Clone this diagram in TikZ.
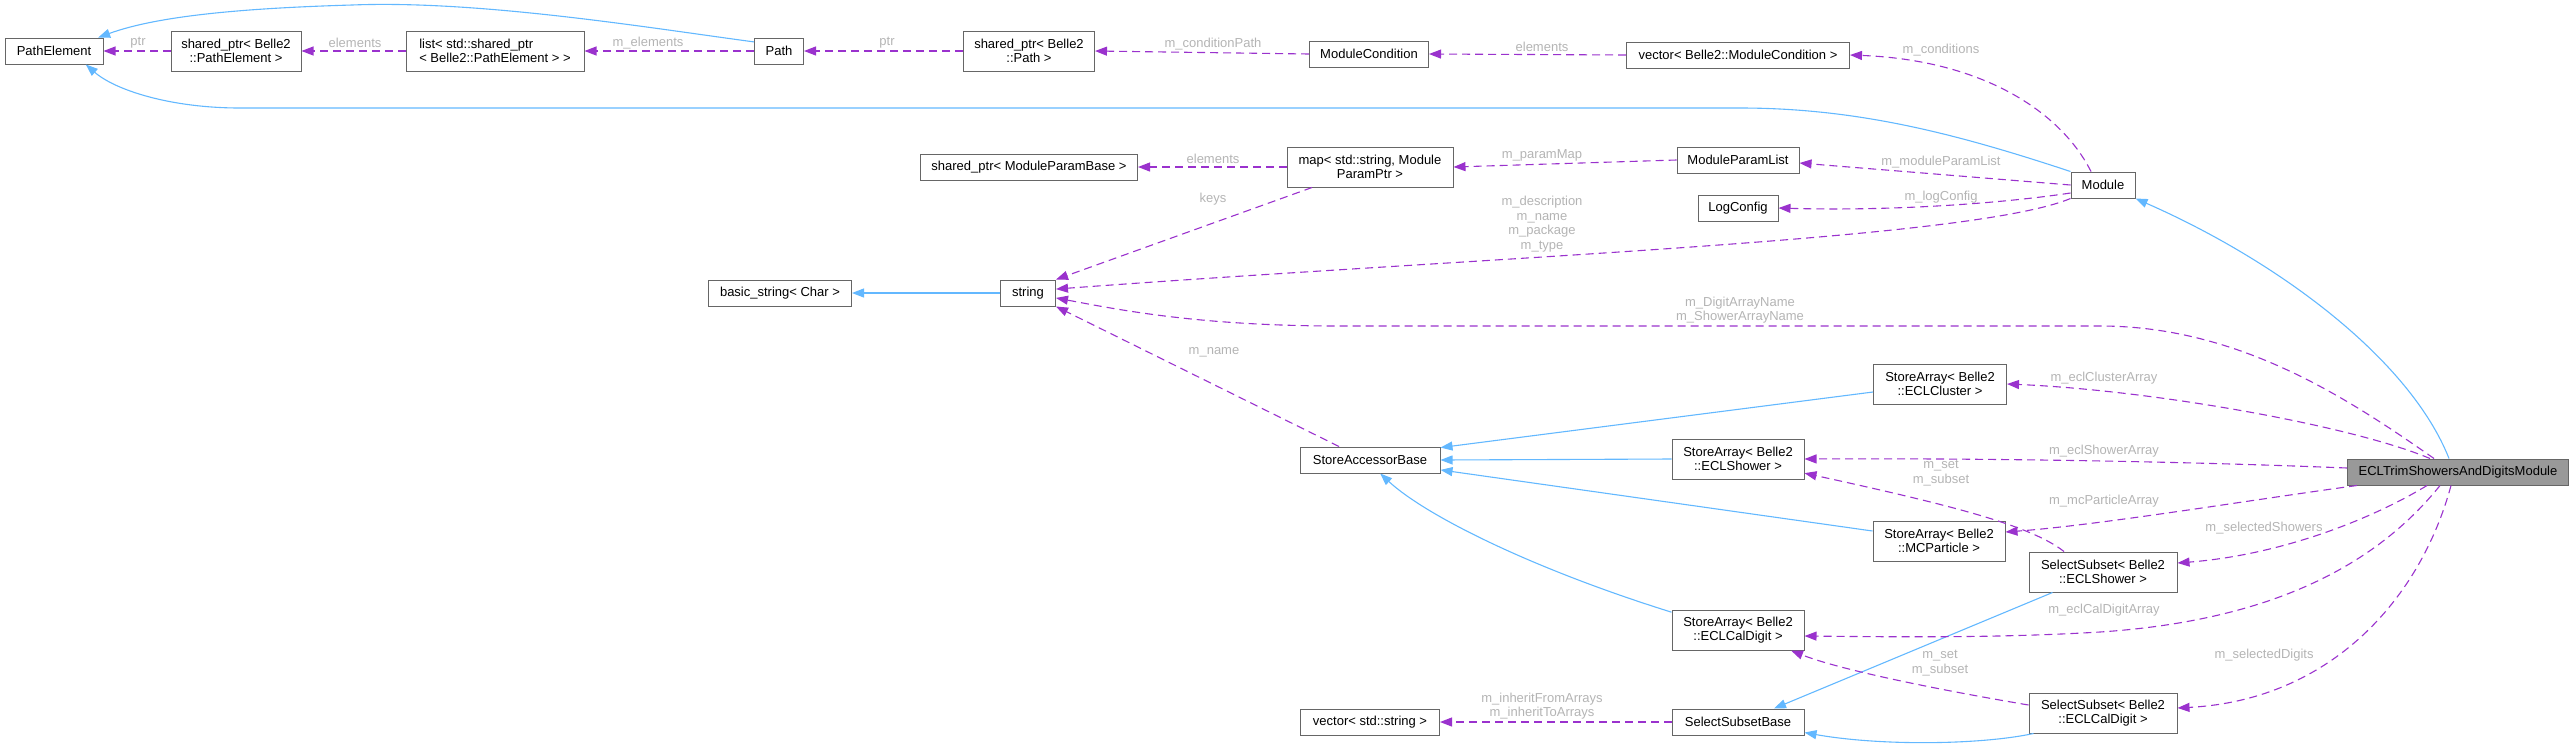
\documentclass[tikz,border=0pt]{standalone}
\usepackage{fontspec}
\setmainfont{Liberation Sans}
\usepackage{xcolor}
\usetikzlibrary{arrows.meta}
\definecolor{boxgray}{HTML}{666666}
\definecolor{rootgray}{HTML}{999999}
\definecolor{inhblue}{HTML}{63B8FF}
\definecolor{usepurple}{HTML}{9A32CD}
\definecolor{lblgray}{HTML}{B4B4B4}

\begin{document}
\begin{tikzpicture}[x=1pt,y=-1pt]
\tikzstyle{every node}+=[inner sep=0pt, font=\fontsize{13pt}{14.5pt}\selectfont]
\tikzstyle{cls}=[draw=boxgray, fill=white, line width=1pt, align=center, minimum height=26pt]
\tikzstyle{cls2}=[cls, minimum height=40pt]
\tikzstyle{lbl}=[text=lblgray, align=center]
\tikzstyle{inh}=[draw=inhblue, line width=1.1pt, -{Triangle[length=12pt,width=9pt,fill=inhblue]}]
\tikzstyle{use}=[draw=usepurple, line width=1.1pt, dash pattern=on 8pt off 5pt, -{Triangle[length=12pt,width=9pt,fill=usepurple]}]
\useasboundingbox (0,0) rectangle (2575,748);
\node[cls, minimum width=98pt] (pel) at (54,51) {PathElement};
\node[cls2, minimum width=130pt] (spPel) at (236,51) {shared\_ptr< Belle2\\::PathElement >};
\node[cls2, minimum width=178pt, align=left] (lst) at (495,51) {list< std::shared\_ptr\\< Belle2::PathElement > >};
\node[cls, minimum width=49pt] (pth) at (779,51) {Path};
\node[cls2, minimum width=131pt] (spPath) at (1029,51) {shared\_ptr< Belle2\\::Path >};
\node[cls, minimum width=119pt] (cond) at (1369,54) {ModuleCondition};
\node[cls, minimum width=223pt] (vcond) at (1738,55) {vector< Belle2::ModuleCondition >};
\node[cls, minimum width=217pt] (spMpb) at (1029,167) {shared\_ptr< ModuleParamBase >};
\node[cls2, minimum width=166pt] (pmap) at (1370,167) {map< std::string, Module\\ParamPtr >};
\node[cls, minimum width=122pt] (mpl) at (1738,160) {ModuleParamList};
\node[cls, minimum width=80pt] (logc) at (1738,208) {LogConfig};
\node[cls, minimum width=64pt] (mod) at (2103,185) {Module};
\node[cls, minimum width=143pt] (bstr) at (780,293) {basic\_string< Char >};
\node[cls, minimum width=55pt] (str) at (1028,293) {string};
\node[cls, minimum width=140pt] (sab) at (1370,460) {StoreAccessorBase};
\node[cls2, minimum width=133pt] (saClu) at (1940,384) {StoreArray< Belle2\\::ECLCluster >};
\node[cls2, minimum width=132pt] (saShw) at (1738,459) {StoreArray< Belle2\\::ECLShower >};
\node[cls2, minimum width=132pt] (saMcp) at (1939,541) {StoreArray< Belle2\\::MCParticle >};
\node[cls2, minimum width=148pt] (ssShw) at (2103,572) {SelectSubset< Belle2\\::ECLShower >};
\node[cls2, minimum width=132pt] (saDig) at (1738,630) {StoreArray< Belle2\\::ECLCalDigit >};
\node[cls, minimum width=139pt] (vstr) at (1370,722) {vector< std::string >};
\node[cls, minimum width=132pt] (ssb) at (1738,722) {SelectSubsetBase};
\node[cls2, minimum width=148pt] (ssDig) at (2103,713) {SelectSubset< Belle2\\::ECLCalDigit >};
\node[cls, fill=rootgray, minimum width=221pt] (trim) at (2458,472) {ECLTrimShowersAndDigitsModule};
\node[lbl] (lPtrA) at (138,43) {ptr};
\node[lbl] (lElemA) at (355,43) {elements};
\node[lbl] (lElemB) at (648,43) {m\_elements};
\node[lbl] (lPtrB) at (887,43) {ptr};
\node[lbl] (lCondPath) at (1213,44) {m\_conditionPath};
\node[lbl] (lElemC) at (1542,47) {elements};
\node[lbl] (lConds) at (1941,50) {m\_conditions};
\node[lbl] (lElemD) at (1213,159) {elements};
\node[lbl] (lParamMap) at (1542,155) {m\_paramMap};
\node[lbl] (lKeys) at (1213,199) {keys};
\node[lbl] (lMpl) at (1941,162) {m\_moduleParamList};
\node[lbl] (lLog) at (1941,197) {m\_logConfig};
\node[lbl] (lDesc) at (1542,224) {m\_description\\m\_name\\m\_package\\m\_type};
\node[lbl] (lArrNames) at (1740,310) {m\_DigitArrayName\\m\_ShowerArrayName};
\node[lbl] (lName) at (1214,352) {m\_name};
\node[lbl] (lClu) at (2104,378) {m\_eclClusterArray};
\node[lbl] (lShw) at (2104,451) {m\_eclShowerArray};
\node[lbl] (lSetA) at (1941,473) {m\_set\\m\_subset};
\node[lbl] (lMcp) at (2104,501) {m\_mcParticleArray};
\node[lbl] (lSelShw) at (2264,528) {m\_selectedShowers};
\node[lbl] (lDig) at (2104,610) {m\_eclCalDigitArray};
\node[lbl] (lSetB) at (1940,663) {m\_set\\m\_subset};
\node[lbl] (lSelDig) at (2264,655) {m\_selectedDigits};
\node[lbl] (lInherit) at (1542,706) {m\_inheritFromArrays\\m\_inheritToArrays};
\draw[inh] (pth.160) .. controls (650,28) and (480,0) .. (352,5) .. controls (250,8) and (160,15) .. (pel.17);
\draw[inh] (mod.north west) .. controls (1960,135) and (1860,108) .. (1740,108) -- (240,108) .. controls (170,108) and (115,90) .. (pel.-23);
\draw[inh] (str.west) -- (bstr.east);
\draw[inh] ([xshift=-9pt]trim.north) .. controls (2410,360) and (2280,262) .. (mod.south east);
\draw[inh] ([yshift=-8pt]saClu.west) -- (sab.10);
\draw[inh] (saShw.west) -- (sab.east);
\draw[inh] ([yshift=10pt]saMcp.west) -- (sab.-8);
\draw[inh] (saDig.165) .. controls (1530,568) and (1425,515) .. (sab.-53);
\draw[inh] ([xshift=24pt]ssShw.south west) -- ([xshift=36pt]ssb.north);
\draw[inh] ([xshift=5pt]ssDig.south west) .. controls (1980,745) and (1880,746) .. (ssb.-9);
\draw[use] (spPel.west) -- (pel.east);
\draw[use] (lst.west) -- (spPel.east);
\draw[use] (pth.west) -- (lst.east);
\draw[use] (spPath.west) -- (pth.east);
\draw[use] (cond.west) -- (spPath.east);
\draw[use] (vcond.west) -- (cond.east);
\draw[use] ([xshift=-12pt]mod.north) .. controls (2060,110) and (1980,60) .. (vcond.east);
\draw[use] (pmap.west) -- (spMpb.east);
\draw[use] (mpl.west) -- (pmap.east);
\draw[use] ([xshift=-58pt]pmap.south) -- (str.north east);
\draw[use] (mod.west) -- ([yshift=-3pt]mpl.east);
\draw[use] ([yshift=-8pt]mod.west) .. controls (1990,205) and (1880,211) .. (logc.east);
\draw[use] (mod.south west) .. controls (1970,240) and (1500,256) .. (str.8);
\draw[use] ([xshift=-24pt]trim.north) .. controls (2350,400) and (2240,326) .. (2100,326) -- (1340,326) .. controls (1200,326) and (1120,310) .. (str.-10);
\draw[use] ([xshift=-31pt]sab.north) -- (str.south east);
\draw[use] ([xshift=-28pt]trim.north) .. controls (2350,425) and (2150,390) .. (saClu.east);
\draw[use] ([yshift=4pt]trim.west) .. controls (2200,462) and (2000,458) .. (saShw.east);
\draw[use] ([xshift=-39pt]ssShw.north) .. controls (2030,525) and (1950,505) .. (saShw.-12);
\draw[use] ([xshift=10pt]trim.south west) .. controls (2250,500) and (2100,525) .. ([yshift=9pt]saMcp.east);
\draw[use] ([xshift=-31pt]trim.south) .. controls (2370,520) and (2280,555) .. ([yshift=9pt]ssShw.east);
\draw[use] ([xshift=-18pt]trim.south) .. controls (2380,560) and (2280,620) .. (2100,632) .. controls (2000,638) and (1900,637) .. ([yshift=-6pt]saDig.east);
\draw[use] ([yshift=8pt]ssDig.west) .. controls (1940,690) and (1840,670) .. ([xshift=53pt]saDig.south);
\draw[use] ([xshift=-7pt]trim.south) .. controls (2420,600) and (2330,700) .. ([yshift=5pt]ssDig.east);
\draw[use] (ssb.west) -- (vstr.east);
\end{tikzpicture}
\end{document}
